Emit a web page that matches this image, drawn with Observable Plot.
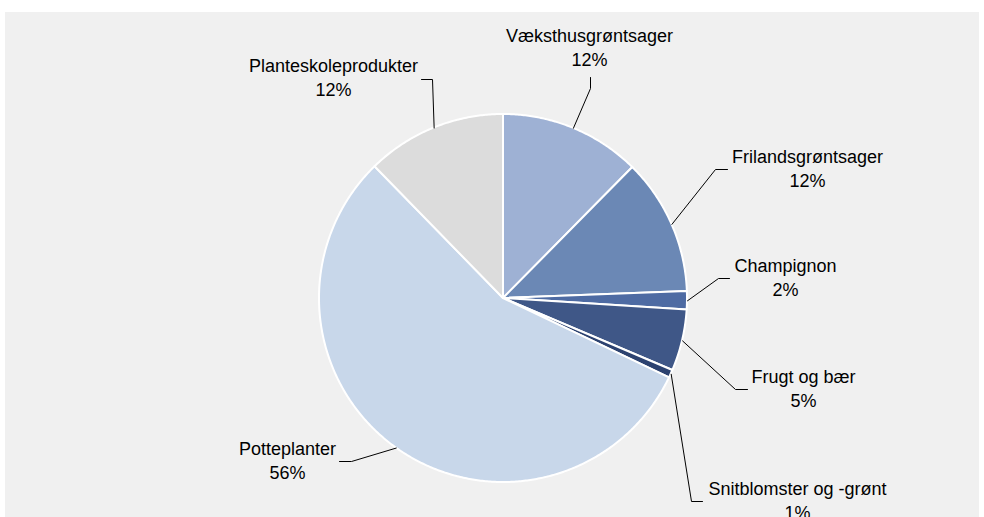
<!DOCTYPE html>
<html>
<head>
<meta charset="utf-8">
<script src="https://cdn.jsdelivr.net/npm/d3@7"></script>
<script src="https://cdn.jsdelivr.net/npm/@observablehq/plot@0.6"></script>
<style>
  html, body { margin: 0; padding: 0; background: #ffffff; width: 984px; height: 517px; overflow: hidden; }
  #panel { position: absolute; left: 5px; top: 12px; width: 974px; height: 505px; background: #f0f0f0; }
</style>
</head>
<body>
<div id="panel"></div>
<script>
// ---- data (clockwise from 12 o'clock) ----
const categories = ["Væksthusgrøntsager", "Frilandsgrøntsager", "Champignon", "Frugt og bær", "Snitblomster og -grønt", "Potteplanter", "Planteskoleprodukter"];
const shares = [12.4, 12.0, 1.6, 5.4, 0.7, 55.6, 12.3];
const colors = ["#9eb1d4", "#6b88b5", "#4e6ba3", "#3f5787", "#2c4270", "#c8d7ea", "#dcdcdc"];

// ---- label layout (pixel offsets from pie centre) ----
const labelX = [86, 304, 282, 300, 294, -216, -170];
const labelY = [-252, -131, -22, 89, 201, 161, -222];
const elbowX = [87, 212, 215, 232, 188, -152, -71];
const elbowY = [-210, -129, -20, 91, 203, 163, -219];
const tailX = [87, 224, 226, 244, 199, -164, -82];
const tailY = [-221, -129, -20, 91, 203, 163, -219];

const W = 974, H = 505, CX = 498, CY = 286, R = 184;

const total = d3.sum(shares);
const pie = d3.pie().sort(null).value(d => d)(shares);

const slices = [];
const leaders = [];
const labels = [];
pie.forEach((p, i) => {
  const name = categories[i];
  const n = Math.max(2, Math.ceil((p.endAngle - p.startAngle) / (Math.PI / 360)));
  for (let k = 0; k <= n; k++) {
    const a = p.startAngle + (p.endAngle - p.startAngle) * k / n;
    slices.push({name, x: R * Math.sin(a), y: -R * Math.cos(a), cx: 0, cy: 0});
  }
  const m = (p.startAngle + p.endAngle) / 2;
  leaders.push({name, x: R * Math.sin(m), y: -R * Math.cos(m)});
  leaders.push({name, x: elbowX[i], y: elbowY[i]});
  leaders.push({name, x: tailX[i], y: tailY[i]});
  labels.push({name, x: labelX[i], y: labelY[i], text: name + "\n" + Math.round(shares[i] / total * 100) + "%"});
});

const chart = Plot.plot({
  width: W,
  height: H,
  margin: 0,
  style: {background: "transparent", fontFamily: "'Liberation Sans', Arial, sans-serif"},
  x: {domain: [-CX, W - CX], range: [0, W], axis: null},
  y: {domain: [-CY, H - CY], range: [0, H], axis: null},
  color: {domain: categories, range: colors},
  marks: [
    Plot.area(slices, {x1: "x", y1: "y", x2: "cx", y2: "cy", z: "name", fill: "name", stroke: "#ffffff", strokeWidth: 2, strokeLinejoin: "round"}),
    Plot.line(leaders, {x: "x", y: "y", z: "name", stroke: "#000000", strokeWidth: 1}),
    Plot.text(labels, {x: "x", y: "y", text: "text", fontSize: 18, lineHeight: 1.33, textAnchor: "middle", fill: "#000000"})
  ]
});
document.getElementById("panel").appendChild(chart);
</script>
</body>
</html>
